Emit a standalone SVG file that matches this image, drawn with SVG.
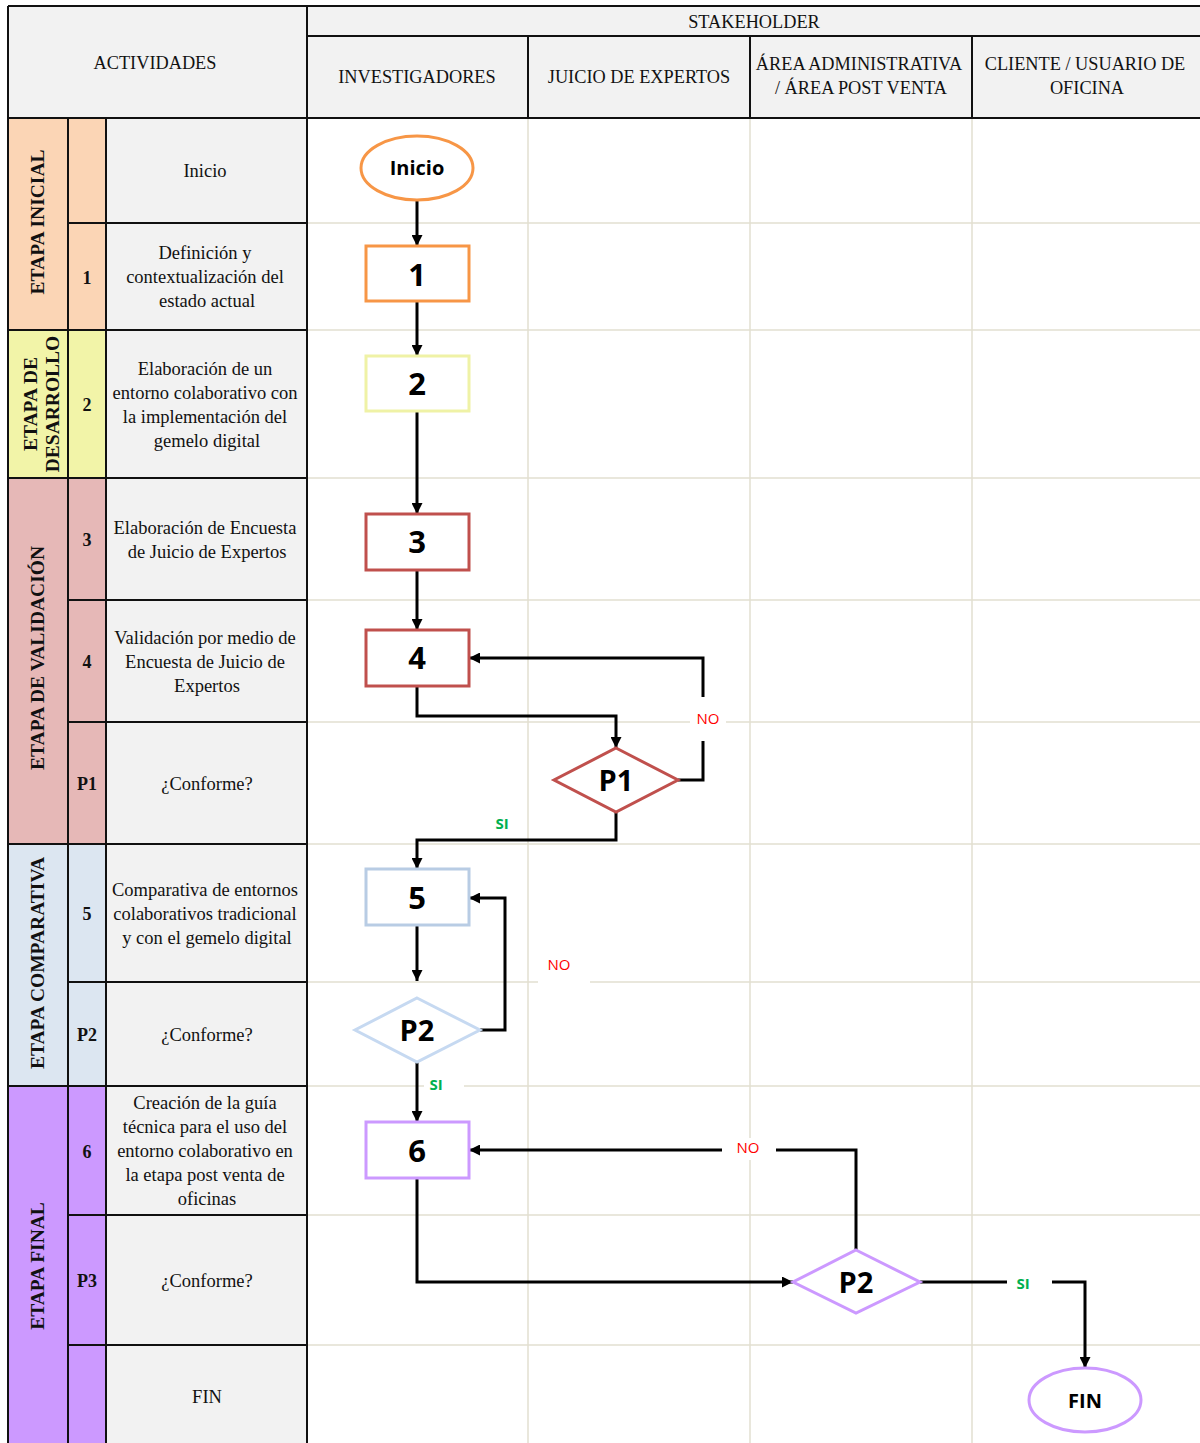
<svg xmlns="http://www.w3.org/2000/svg" width="1200" height="1443" viewBox="0 0 1200 1443">
<defs>
<marker id="arr" viewBox="0 0 10 10" refX="10" refY="5" markerWidth="12" markerHeight="11" markerUnits="userSpaceOnUse" orient="auto"><path d="M0,0 L10,5 L0,10 z" fill="#000"/></marker>
<style>
.hdr{font-family:"Liberation Serif","Times New Roman",serif;font-size:18.3px;fill:#111;text-anchor:middle}
.act{font-family:"Liberation Serif","Times New Roman",serif;font-size:18.5px;fill:#111;text-anchor:middle}
.num{font-family:"Liberation Serif","Times New Roman",serif;font-size:18px;font-weight:bold;fill:#111;text-anchor:middle}
.phase{font-family:"Liberation Serif","Times New Roman",serif;font-size:19.5px;font-weight:bold;fill:#111;text-anchor:middle}
.grid{stroke:#E2DFD0;stroke-width:1.5;fill:none}
.bd{stroke:#111;stroke-width:2;fill:none}
.node{fill:#fff;stroke-width:3}
.lbl{font-family:"Open Sans","Liberation Sans",sans-serif;font-weight:bold;fill:#000;text-anchor:middle}
.con{stroke:#000;stroke-width:3;fill:none}
.no{font-family:"Open Sans","Liberation Sans",sans-serif;font-size:15px;fill:#FF0000;text-anchor:middle}
.si{font-family:"Open Sans","Liberation Sans",sans-serif;font-size:15px;font-weight:bold;fill:#00B050;text-anchor:middle}
</style>
</defs>
<rect x="0" y="0" width="1200" height="1443" fill="#fff"/>

<g id="header">
<rect x="8" y="6" width="1192" height="112" fill="#F2F2F2"/>
<text class="hdr" x="155" y="69">ACTIVIDADES</text>
<text class="hdr" x="754" y="28">STAKEHOLDER</text>
<text class="hdr" x="417" y="83">INVESTIGADORES</text>
<text class="hdr" x="639" y="83">JUICIO DE EXPERTOS</text>
<text class="hdr" x="859" y="70">ÁREA ADMINISTRATIVA</text>
<text class="hdr" x="861" y="94">/ ÁREA POST VENTA</text>
<text class="hdr" x="1085" y="70">CLIENTE / USUARIO DE</text>
<text class="hdr" x="1087" y="94">OFICINA</text>
</g>

<g id="lanes">
<line class="grid" x1="528" y1="118" x2="528" y2="1443"/>
<line class="grid" x1="750" y1="118" x2="750" y2="1443"/>
<line class="grid" x1="972" y1="118" x2="972" y2="1443"/>
<line class="grid" x1="307" y1="223" x2="1200" y2="223"/>
<line class="grid" x1="307" y1="330" x2="1200" y2="330"/>
<line class="grid" x1="307" y1="478" x2="1200" y2="478"/>
<line class="grid" x1="307" y1="600" x2="1200" y2="600"/>
<line class="grid" x1="307" y1="722" x2="1200" y2="722"/>
<line class="grid" x1="307" y1="844" x2="1200" y2="844"/>
<line class="grid" x1="307" y1="982" x2="1200" y2="982"/>
<line class="grid" x1="307" y1="1086" x2="1200" y2="1086"/>
<line class="grid" x1="307" y1="1215" x2="1200" y2="1215"/>
<line class="grid" x1="307" y1="1345" x2="1200" y2="1345"/>
</g>

<g id="phases">
<rect x="8" y="118" width="98" height="212" fill="#FBD5B5"/>
<rect x="8" y="330" width="98" height="148" fill="#F2F4A8"/>
<rect x="8" y="478" width="98" height="366" fill="#E6B8B7"/>
<rect x="8" y="844" width="98" height="242" fill="#DCE6F1"/>
<rect x="8" y="1086" width="98" height="357" fill="#CC99FF"/>
<rect x="106" y="118" width="201" height="1325" fill="#F2F2F2"/>
<text class="phase" transform="translate(44,222) rotate(-90)">ETAPA INICIAL</text>
<text class="phase" transform="translate(37,404) rotate(-90)">ETAPA DE</text>
<text class="phase" transform="translate(59,404) rotate(-90)">DESARROLLO</text>
<text class="phase" transform="translate(44,658) rotate(-90)">ETAPA DE VALIDACIÓN</text>
<text class="phase" transform="translate(44,963) rotate(-90)">ETAPA COMPARATIVA</text>
<text class="phase" transform="translate(44,1266) rotate(-90)">ETAPA FINAL</text>
</g>

<g id="activities">
<text class="num" x="87" y="284">1</text>
<text class="num" x="87" y="411">2</text>
<text class="num" x="87" y="546">3</text>
<text class="num" x="87" y="668">4</text>
<text class="num" x="87" y="790">P1</text>
<text class="num" x="87" y="920">5</text>
<text class="num" x="87" y="1041">P2</text>
<text class="num" x="87" y="1158">6</text>
<text class="num" x="87" y="1287">P3</text>
<text class="act" x="205" y="177">Inicio</text>
<text class="act" x="205" y="259">Definición y</text>
<text class="act" x="205" y="283">contextualización del</text>
<text class="act" x="207" y="307">estado actual</text>
<text class="act" x="205" y="375">Elaboración de un</text>
<text class="act" x="205" y="399">entorno colaborativo con</text>
<text class="act" x="205" y="423">la implementación del</text>
<text class="act" x="207" y="447">gemelo digital</text>
<text class="act" x="205" y="534">Elaboración de Encuesta</text>
<text class="act" x="207" y="558">de Juicio de Expertos</text>
<text class="act" x="205" y="644">Validación por medio de</text>
<text class="act" x="205" y="668">Encuesta de Juicio de</text>
<text class="act" x="207" y="692">Expertos</text>
<text class="act" x="207" y="790">¿Conforme?</text>
<text class="act" x="205" y="896">Comparativa de entornos</text>
<text class="act" x="205" y="920">colaborativos tradicional</text>
<text class="act" x="207" y="944">y con el gemelo digital</text>
<text class="act" x="207" y="1041">¿Conforme?</text>
<text class="act" x="205" y="1109">Creación de la guía</text>
<text class="act" x="205" y="1133">técnica para el uso del</text>
<text class="act" x="205" y="1157">entorno colaborativo en</text>
<text class="act" x="205" y="1181">la etapa post venta de</text>
<text class="act" x="207" y="1205">oficinas</text>
<text class="act" x="207" y="1287">¿Conforme?</text>
<text class="act" x="207" y="1403">FIN</text>
</g>

<g id="borders">
<path class="bd" d="M8,6 H1200 M8,6 V1443 M307,6 V1443 M307,36 H1200 M528,36 V118 M750,36 V118 M972,36 V118 M8,118 H1200"/>
<path class="bd" d="M68,118 V1443 M106,118 V1443"/>
<path class="bd" d="M68,223 H307 M8,330 H307 M8,478 H307 M68,600 H307 M68,722 H307 M8,844 H307 M68,982 H307 M8,1086 H307 M68,1215 H307 M68,1345 H307"/>
</g>

<g id="connectors">
<path class="con" d="M417,200 V246" marker-end="url(#arr)"/>
<path class="con" d="M417,301 V356" marker-end="url(#arr)"/>
<path class="con" d="M417,411 V514" marker-end="url(#arr)"/>
<path class="con" d="M417,570 V630" marker-end="url(#arr)"/>
<path class="con" d="M417,686 V716 H616 V748" marker-end="url(#arr)"/>
<path class="con" d="M678,780 H703 V658 H469" marker-end="url(#arr)"/>
<path class="con" d="M616,812 V840 H417 V869" marker-end="url(#arr)"/>
<path class="con" d="M417,925 V981" marker-end="url(#arr)"/>
<path class="con" d="M480,1030 H505 V898 H469" marker-end="url(#arr)"/>
<path class="con" d="M417,1062 V1122" marker-end="url(#arr)"/>
<path class="con" d="M417,1178 V1282 H793" marker-end="url(#arr)"/>
<path class="con" d="M856,1250 V1150 H469" marker-end="url(#arr)"/>
<path class="con" d="M920,1282 H1085 V1368" marker-end="url(#arr)"/>
<rect x="690" y="697" width="36" height="44" fill="#fff"/>
<text class="no" x="708" y="724">NO</text>
<text class="si" x="502" y="829">SI</text>
<rect x="538" y="952" width="52" height="36" fill="#fff"/>
<text class="no" x="559" y="970">NO</text>
<rect x="424" y="1072" width="40" height="24" fill="#fff"/>
<text class="si" x="436" y="1090">SI</text>
<rect x="722" y="1138" width="54" height="22" fill="#fff"/>
<text class="no" x="748" y="1153">NO</text>
<rect x="1007" y="1272" width="45" height="22" fill="#fff"/>
<text class="si" x="1023" y="1289">SI</text>
</g>

<g id="n-inicio">
<ellipse class="node" cx="417" cy="168" rx="56" ry="32" stroke="#F79646"/>
<text class="lbl" x="417" y="175" font-size="20">Inicio</text>
</g>
<g id="n-1">
<rect class="node" x="366" y="246" width="103" height="55" stroke="#F79646"/>
<text class="lbl" x="417" y="286" font-size="31">1</text>
</g>
<g id="n-2">
<rect class="node" x="366" y="356" width="103" height="55" stroke="#EFF2A6"/>
<text class="lbl" x="417" y="395" font-size="31">2</text>
</g>
<g id="n-3">
<rect class="node" x="366" y="514" width="103" height="56" stroke="#C0504D"/>
<text class="lbl" x="417" y="553" font-size="31">3</text>
</g>
<g id="n-4">
<rect class="node" x="366" y="630" width="103" height="56" stroke="#C0504D"/>
<text class="lbl" x="417" y="669" font-size="31">4</text>
</g>
<g id="n-p1">
<polygon class="node" points="616,748 678,780 616,812 554,780" stroke="#C0504D"/>
<text class="lbl" x="616" y="791" font-size="29">P1</text>
</g>
<g id="n-5">
<rect class="node" x="366" y="869" width="103" height="56" stroke="#B8CCE4"/>
<text class="lbl" x="417" y="909" font-size="31">5</text>
</g>
<g id="n-p2a">
<polygon class="node" points="417,998 480,1030 417,1062 355,1030" stroke="#C6D9F1"/>
<text class="lbl" x="417" y="1041" font-size="29">P2</text>
</g>
<g id="n-6">
<rect class="node" x="366" y="1122" width="103" height="56" stroke="#CC99FF"/>
<text class="lbl" x="417" y="1162" font-size="31">6</text>
</g>
<g id="n-p2b">
<polygon class="node" points="856,1250 920,1282 856,1313 793,1282" stroke="#CC99FF"/>
<text class="lbl" x="856" y="1293" font-size="29">P2</text>
</g>
<g id="n-fin">
<ellipse class="node" cx="1085" cy="1400" rx="56" ry="32" stroke="#CC99FF"/>
<text class="lbl" x="1085" y="1408" font-size="20">FIN</text>
</g>
</svg>
